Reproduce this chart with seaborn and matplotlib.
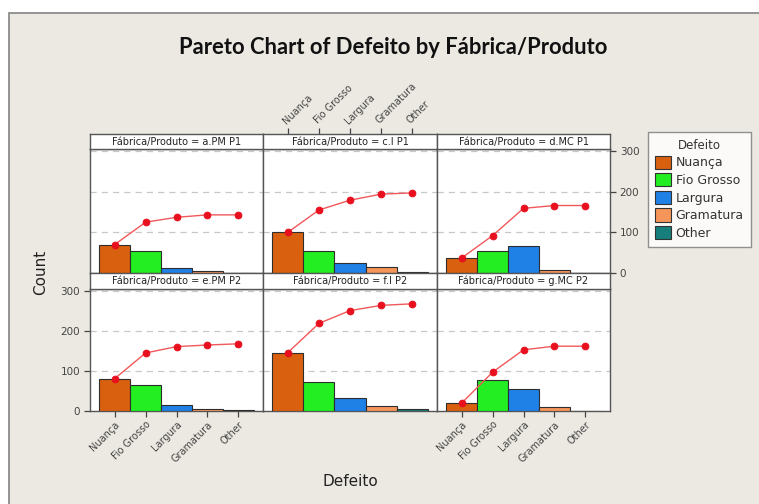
import numpy as np
import pandas as pd
import matplotlib
matplotlib.use("Agg")
import matplotlib.pyplot as plt
from matplotlib.patches import Rectangle, Patch
import seaborn as sns

# --- data -------------------------------------------------------------
defects = ["Nuança", "Fio Grosso", "Largura", "Gramatura", "Other"]
groups = ["a.PM P1", "c.I P1", "d.MC P1", "e.PM P2", "f.I P2", "g.MC P2"]
counts_a = [70, 55, 12, 6, 0]
counts_c = [100, 55, 24, 15, 3]
counts_d = [37, 55, 67, 7, 0]
counts_e = [81, 64, 16, 4, 3]
counts_f = [146, 73, 32, 13, 4]
counts_g = [20, 77, 56, 9, 0]
y_ticks = [0, 100, 200, 300]

all_counts = [counts_a, counts_c, counts_d, counts_e, counts_f, counts_g]

colors = ["#D8600E", "#22EE22", "#1F80E6", "#F5955A", "#167F7B"]
palette = dict(zip(defects, colors))

rows = []
for g, cnts in zip(groups, all_counts):
    cum = np.cumsum(cnts)
    for i, (d, c, cc) in enumerate(zip(defects, cnts, cum)):
        rows.append({"Grupo": g, "Defeito": d, "Count": c, "Cum": cc, "pos": i})
df = pd.DataFrame(rows)

# --- figure -----------------------------------------------------------
sns.set_theme(style="white")
plt.rcParams["font.family"] = ["DejaVu Sans"]
W, H = 759, 504
fig = plt.figure(figsize=(W / 100, H / 100), dpi=100, facecolor="white")

BG = "#ECE9E2"
fig.patches.append(Rectangle((9 / W, -0.02), 1.0, 1 - 13 / H + 0.02,
                             transform=fig.transFigure, facecolor=BG,
                             edgecolor="#8C8C8C", lw=1.3, zorder=-5))


def box(x0, y0, x1, y1):
    return [x0 / W, 1 - y1 / H, (x1 - x0) / W, (y1 - y0) / H]


cols = [(90, 263), (263, 437), (437, 610)]
rows_px = [((134, 149), (149, 273)), ((273, 289), (289, 411))]
YMAX = 305
XLIM = (-0.8, 4.8)
TICK_C = "#444444"
EDGE = "#555555"

for k, g in enumerate(groups):
    r, c = divmod(k, 3)
    (sy0, sy1), (py0, py1) = rows_px[r]
    x0, x1 = cols[c]
    ax = fig.add_axes(box(x0, py0, x1, py1))
    sub = df[df["Grupo"] == g]
    sns.barplot(data=sub, x="Defeito", y="Count", hue="Defeito", order=defects,
                hue_order=defects, palette=palette, width=1.0, dodge=False,
                saturation=1.0, legend=False, edgecolor="#2E2E2E",
                linewidth=0.8, ax=ax, zorder=3)
    sns.lineplot(data=sub, x="pos", y="Cum", color="#F0585A", lw=1.0,
                 marker="o", markersize=4.8, markerfacecolor="#E8101E",
                 markeredgecolor="#E8101E", ax=ax, zorder=4)
    ax.set_xlim(*XLIM)
    ax.set_ylim(0, YMAX)
    ax.set_facecolor("white")
    for yv in [100, 200, 300]:
        ax.axhline(yv, color="#C8C8C8", lw=0.9, ls=(0, (5, 4)), zorder=1)
    for s in ax.spines.values():
        s.set_color(EDGE)
        s.set_linewidth(1.0)
    ax.set_xlabel("")
    ax.set_ylabel("")
    ax.set_xticks(range(len(defects)))
    ax.set_yticks(y_ticks)
    ax.tick_params(axis="both", which="both", length=0, labelleft=False,
                   labelbottom=False, colors=TICK_C, labelsize=7.5)

    if g == "d.MC P1":
        ax.yaxis.tick_right()
        ax.tick_params(axis="y", right=True, length=4, width=0.9,
                       labelright=True, colors=TICK_C, labelsize=7.5, pad=3)
    if g == "e.PM P2":
        ax.tick_params(axis="y", left=True, length=4, width=0.9,
                       labelleft=True, colors=TICK_C, labelsize=7.5, pad=3)
    if g in ("e.PM P2", "g.MC P2"):
        ax.tick_params(axis="x", bottom=True, length=4, width=0.9,
                       labelbottom=True, pad=2)
        ax.set_xticklabels(defects, rotation=45, ha="right", va="top",
                           rotation_mode="anchor", fontsize=7, color=TICK_C)

    # facet strip
    sax = fig.add_axes(box(x0, sy0, x1, sy1))
    sax.set_facecolor("white")
    sax.set_xlim(*XLIM)
    sax.set_ylim(0, 1)
    sax.set_yticks([])
    sax.set_xticks([])
    for s in sax.spines.values():
        s.set_color(EDGE)
        s.set_linewidth(1.0)
    sax.text(0.5, 0.5, f"Fábrica/Produto = {g}", transform=sax.transAxes,
             ha="center", va="center", fontsize=7, color="#222222")
    if g == "c.I P1":
        sax.set_xticks(range(len(defects)))
        sax.xaxis.tick_top()
        sax.tick_params(axis="x", top=True, length=4, width=0.9,
                        colors=TICK_C, pad=2)
        sax.set_xticklabels(defects, rotation=45, ha="left", va="bottom",
                            rotation_mode="anchor", fontsize=7, color=TICK_C)

fig.text(393 / W, 1 - 48 / H, "Pareto Chart of Defeito by Fábrica/Produto",
         ha="center", va="center", fontsize=15.8, fontweight="bold",
         family=["Lato", "DejaVu Sans"], color="#111111")
fig.text(41 / W, 1 - 272 / H, "Count", rotation=90, ha="center",
         va="center", fontsize=11, color="#222222")
fig.text(350 / W, 1 - 481 / H, "Defeito", ha="center", va="center",
         fontsize=11, color="#222222")

handles = [Patch(facecolor=c, edgecolor="#333333", lw=0.8) for c in colors]
leg = fig.legend(handles, defects, title="Defeito", loc="upper left",
                 bbox_to_anchor=(648 / W, 1 - 132 / H), frameon=True,
                 fontsize=9, title_fontsize=8.5, handlelength=1.25,
                 handleheight=1.25, handletextpad=0.4, labelspacing=0.3,
                 borderpad=0.55, borderaxespad=0, fancybox=False)
leg.get_frame().set_edgecolor("#777777")
leg.get_frame().set_linewidth(1.0)
leg.get_frame().set_facecolor("white")
for t in leg.get_texts():
    t.set_color("#333333")
leg.get_title().set_color("#333333")

fig.savefig("out.png", dpi=100, facecolor="white")
